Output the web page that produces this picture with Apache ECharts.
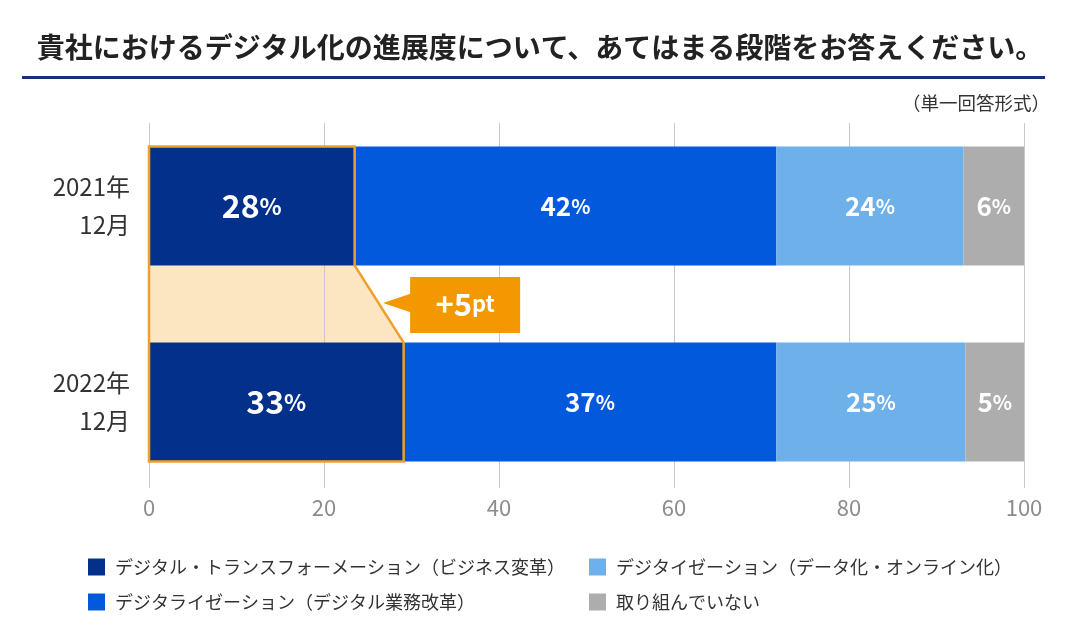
<!DOCTYPE html>
<html>
<head>
<meta charset="utf-8">
<script src="https://cdn.jsdelivr.net/npm/echarts@6/dist/echarts.min.js"></script>
<style>
html,body{margin:0;padding:0;background:#fff;}
#chart{width:1080px;height:640px;}
</style>
</head>
<body>
<div id="chart"></div>
<script>
// ---- data ----
const titleText = '貴社におけるデジタル化の進展度について、あてはまる段階をお答えください。';
const noteText = '（単一回答形式）';
const categories = ['2021年\n12月', '2022年\n12月'];
const seriesNames = [
  'デジタル・トランスフォーメーション（ビジネス変革）',
  'デジタライゼーション（デジタル業務改革）',
  'デジタイゼーション（データ化・オンライン化）',
  '取り組んでいない'
];
// bar lengths as drawn against the 0-100 axis
const dxBar = [23.5, 29.1];
const digitalizationBar = [48.2, 42.6];
const digitizationBar = [21.4, 21.6];
const noneBar = [6.9, 6.7];
// printed percentages
const dxPct = [28, 33];
const digitalizationPct = [42, 37];
const digitizationPct = [24, 25];
const nonePct = [6, 5];
const xTicks = [0, 20, 40, 60, 80, 100];

const colors = ['#03308b', '#0259dc', '#6eb0ea', '#adadad'];
const FONT = '"Noto Sans CJK JP", "Noto Sans", sans-serif';
const BAR_W = 119;
const HALF = BAR_W / 2;

const chart = echarts.init(document.getElementById('chart'));

function labelFor(pcts, big) {
  return {
    show: true,
    position: 'inside',
    color: '#fff',
    fontFamily: FONT,
    formatter: function (p) { return '{n|' + pcts[p.dataIndex] + '}{p|%}'; },
    rich: {
      n: { fontSize: big ? 32 : 26, fontWeight: 'bold', color: '#fff', fontFamily: FONT },
      p: { fontSize: big ? 23 : 20, fontWeight: 'bold', color: '#fff', fontFamily: FONT }
    }
  };
}

const bars = [
  [dxBar, dxPct, true],
  [digitalizationBar, digitalizationPct, false],
  [digitizationBar, digitizationPct, false],
  [noneBar, nonePct, false]
].map(function (s, i) {
  return {
    name: seriesNames[i],
    type: 'bar',
    stack: 'total',
    xAxisIndex: 0,
    yAxisIndex: 0,
    barWidth: BAR_W,
    z: 5,
    itemStyle: { color: colors[i] },
    label: labelFor(s[1], s[2]),
    emphasis: { disabled: true },
    data: s[0]
  };
});

function corners(api) {
  const a = api.coord([0, 0]);
  const b = api.coord([dxBar[0], 0]);
  const c = api.coord([0, 1]);
  const d = api.coord([dxBar[1], 1]);
  return { a: a, b: b, c: c, d: d };
}

const fillSeries = {
  type: 'custom',
  xAxisIndex: 0, yAxisIndex: 0,
  z: 1,
  silent: true,
  data: [0],
  renderItem: function (params, api) {
    const k = corners(api);
    return {
      type: 'polygon',
      shape: { points: [
        [k.a[0], k.a[1] + HALF], [k.b[0], k.b[1] + HALF],
        [k.d[0], k.d[1] - HALF], [k.c[0], k.c[1] - HALF]
      ] },
      style: { fill: '#fce5c1' }
    };
  }
};

const outlineSeries = {
  type: 'custom',
  xAxisIndex: 0, yAxisIndex: 0,
  z: 10,
  silent: true,
  data: [0],
  renderItem: function (params, api) {
    const k = corners(api);
    const midX = (k.b[0] + k.d[0]) / 2;
    const midY = ((k.b[1] + HALF) + (k.d[1] - HALF)) / 2;
    const tx = midX + 4;
    const diff = dxPct[1] - dxPct[0];
    return {
      type: 'group',
      children: [
        {
          type: 'polygon',
          shape: { points: [
            [k.a[0], k.a[1] - HALF], [k.b[0], k.b[1] - HALF], [k.b[0], k.b[1] + HALF],
            [k.d[0], k.d[1] - HALF], [k.d[0], k.d[1] + HALF], [k.c[0], k.c[1] + HALF]
          ] },
          style: { fill: 'none', stroke: '#f0a02a', lineWidth: 2.5, lineJoin: 'miter' }
        },
        {
          type: 'polygon',
          shape: { points: [[tx, midY - 1], [tx + 28, midY - 10.5], [tx + 28, midY + 8.5]] },
          style: { fill: '#f39800' }
        },
        {
          type: 'rect',
          shape: { x: tx + 27, y: midY - 27, width: 110, height: 56 },
          style: { fill: '#f39800' }
        },
        {
          type: 'text',
          x: tx + 82, y: midY,
          style: {
            text: '{a|+' + diff + '}{b|pt}',
            align: 'center', verticalAlign: 'middle',
            rich: {
              a: { fontSize: 31, fontWeight: 'bold', fill: '#fff', fontFamily: FONT },
              b: { fontSize: 22, fontWeight: 'bold', fill: '#fff', fontFamily: FONT }
            }
          }
        }
      ]
    };
  }
};

const option = {
  backgroundColor: '#fff',
  animation: false,
  textStyle: { fontFamily: FONT },
  title: {
    text: titleText,
    left: 'center',
    top: 28,
    textStyle: { fontSize: 28, fontWeight: 'bold', color: '#222', fontFamily: FONT }
  },
  graphic: [
    { type: 'line', shape: { x1: 22, y1: 77.5, x2: 1045, y2: 77.5 }, style: { stroke: '#14307e', lineWidth: 3 } },
    { type: 'text', right: 30, top: 94, style: { text: noteText, fontSize: 18.5, fill: '#333', fontFamily: FONT } }
  ],
  legend: [
    {
      data: seriesNames.slice(0, 2), orient: 'vertical', left: 83, top: 553,
      itemWidth: 17, itemHeight: 17, itemGap: 17, icon: 'rect', selectedMode: false,
      textStyle: { fontSize: 18, color: '#333', fontFamily: FONT, padding: [0, 0, 0, 5] }
    },
    {
      data: seriesNames.slice(2, 4), orient: 'vertical', left: 584, top: 553,
      itemWidth: 17, itemHeight: 17, itemGap: 17, icon: 'rect', selectedMode: false,
      textStyle: { fontSize: 18, color: '#333', fontFamily: FONT, padding: [0, 0, 0, 5] }
    }
  ],
  grid: [
    { left: 149, right: 56, top: 108, height: 392 },
    { left: 149, right: 56, top: 123, height: 365 }
  ],
  xAxis: [
    { gridIndex: 0, type: 'value', min: 0, max: 100, show: false },
    {
      gridIndex: 1, type: 'value', min: xTicks[0], max: xTicks[xTicks.length - 1], interval: 20,
      z: 3,
      axisLine: { show: false }, axisTick: { show: false },
      splitLine: { show: true, lineStyle: { color: '#c9c9c9', width: 1 } },
      axisLabel: { color: '#8c8c8c', fontSize: 22, margin: 9, fontFamily: FONT }
    }
  ],
  yAxis: [
    {
      gridIndex: 0, type: 'category', data: categories, inverse: true,
      axisLine: { show: false }, axisTick: { show: false }, splitLine: { show: false },
      axisLabel: { color: '#333', fontSize: 24, lineHeight: 38, margin: 19, align: 'right', fontFamily: FONT }
    },
    { gridIndex: 1, type: 'value', show: false }
  ],
  series: bars.concat([fillSeries, outlineSeries])
};

chart.setOption(option);
</script>
</body>
</html>
